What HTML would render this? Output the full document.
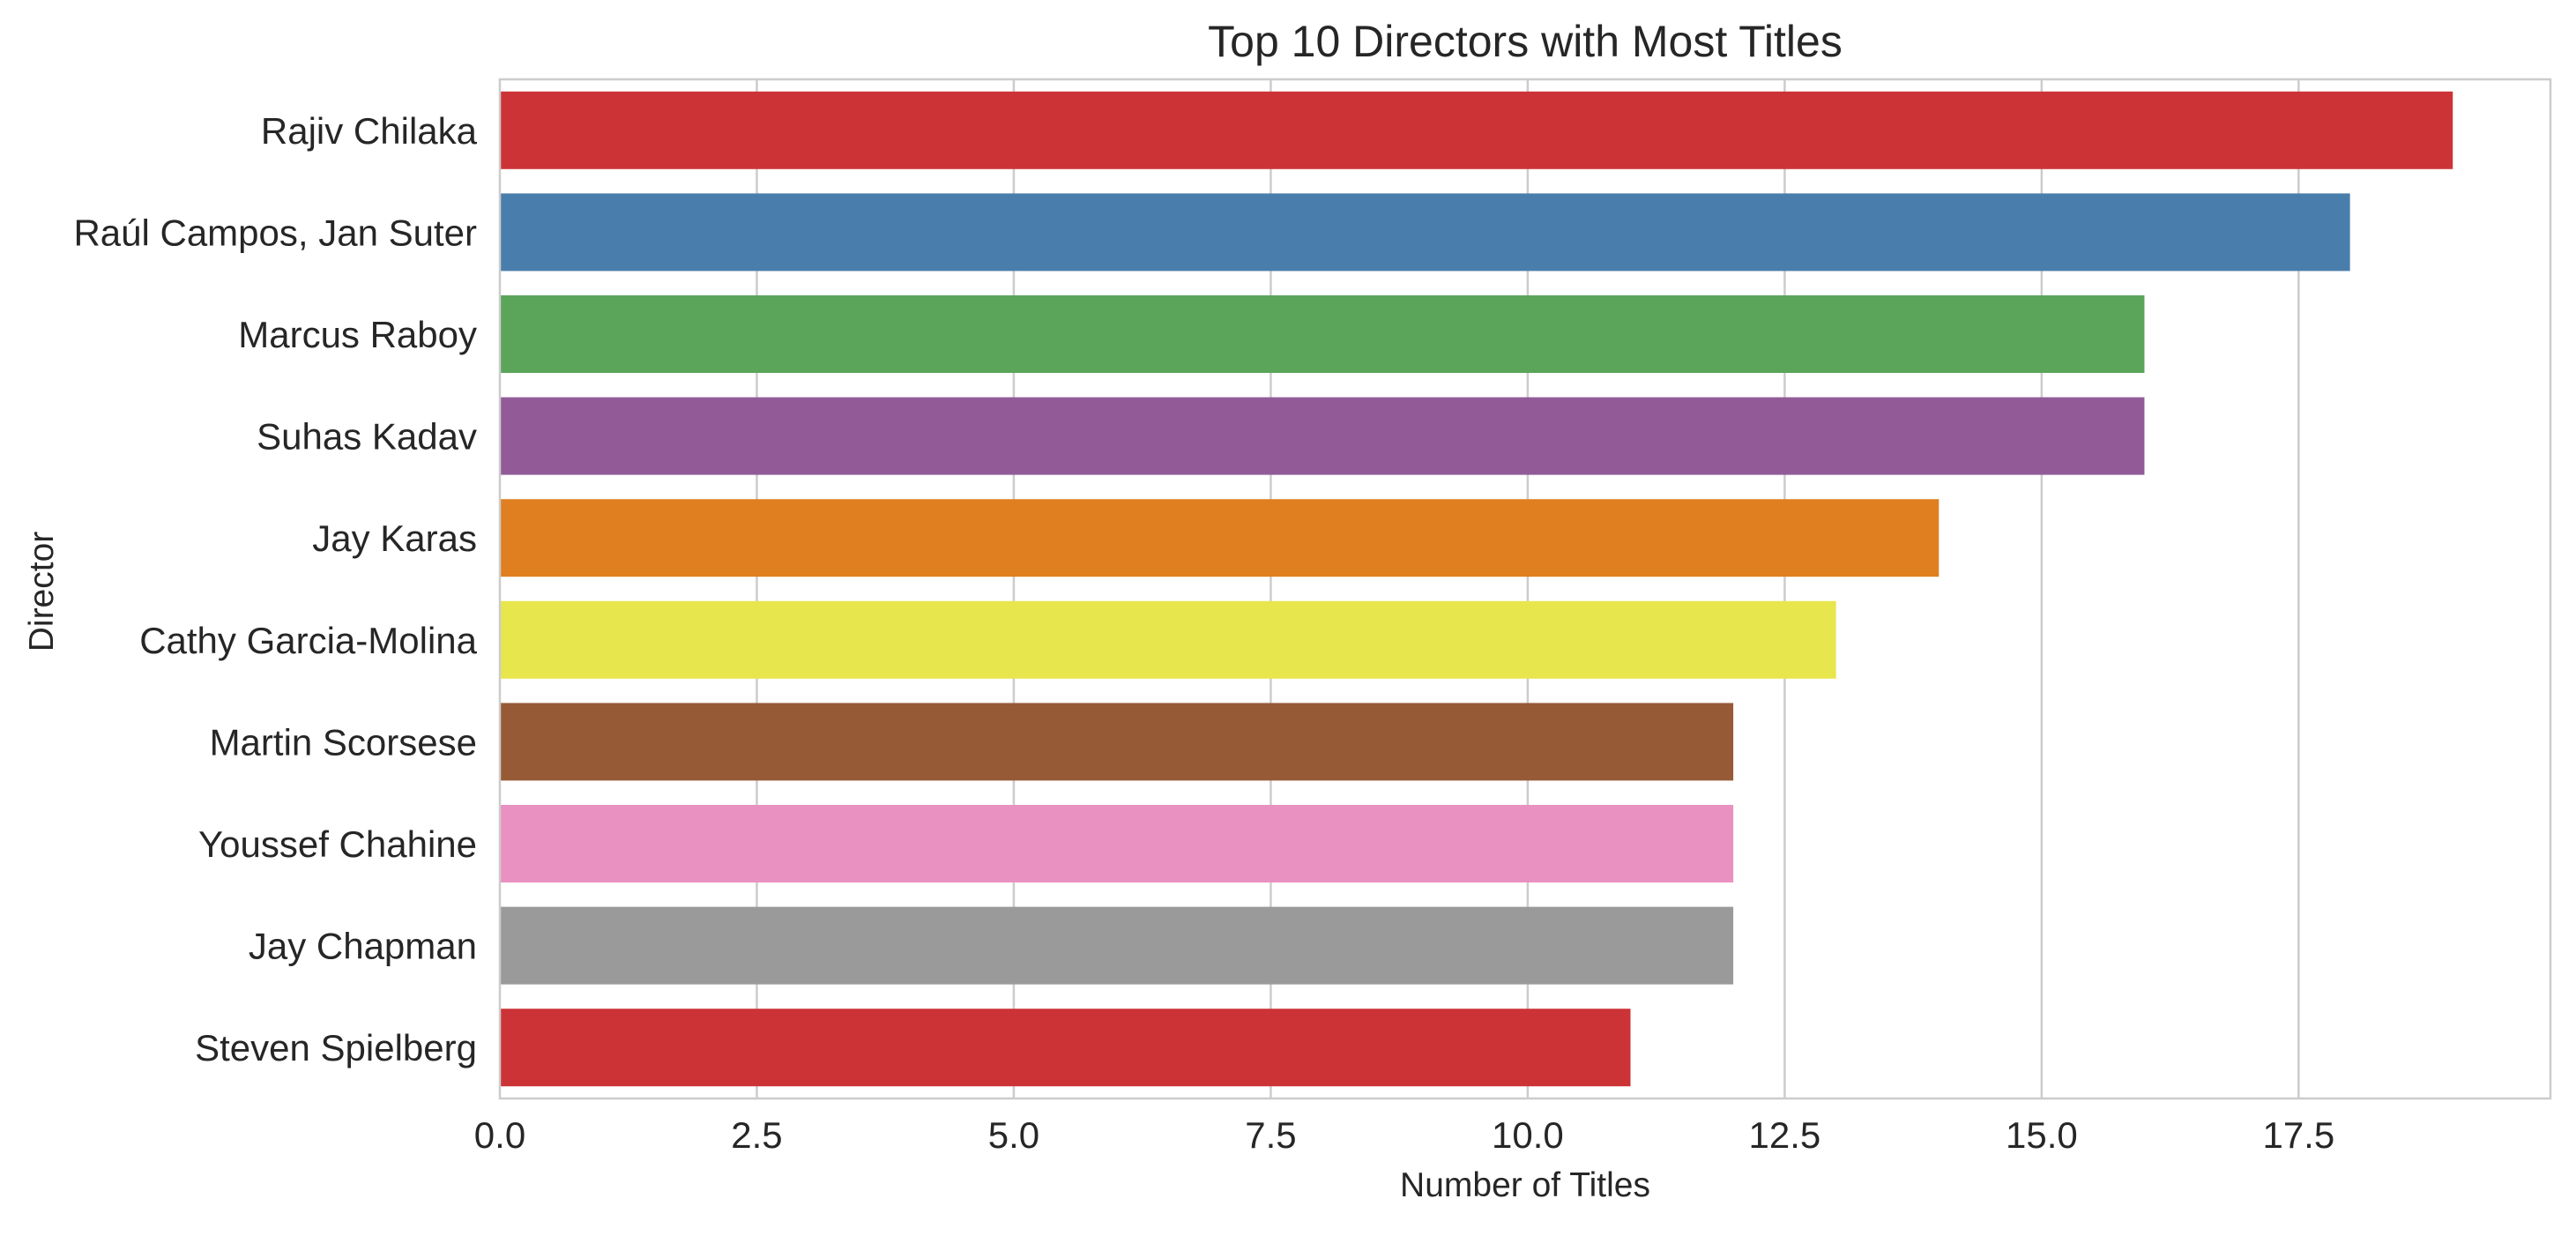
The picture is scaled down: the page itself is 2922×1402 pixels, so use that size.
<!DOCTYPE html>
<html><head><meta charset="utf-8"><style>
html,body{margin:0;padding:0;background:#fff;}
svg text{font-family:"Liberation Sans",Arial,sans-serif;fill:#262626;}
</style></head><body>
<svg id="chart" width="2922" height="1397" viewBox="0 0 2922 1397" xmlns="http://www.w3.org/2000/svg">
<text x="1730" y="64" font-size="50" text-anchor="middle">Top 10 Directors with Most Titles</text>
<g id="grid"></g><g id="bars"></g><g id="yticks"></g><g id="xticks"></g>
<rect x="567" y="90" width="2326" height="1156" fill="none" stroke="#cccccc" stroke-width="2.5"/>
<text x="1730" y="1357" font-size="39" text-anchor="middle">Number of Titles</text>
<text transform="translate(60,671) rotate(-90)" font-size="39" text-anchor="middle">Director</text>
</svg>
<script>
const categories=["Rajiv Chilaka","Raúl Campos, Jan Suter","Marcus Raboy","Suhas Kadav","Jay Karas","Cathy Garcia-Molina","Martin Scorsese","Youssef Chahine","Jay Chapman","Steven Spielberg"];
const values=[19,18,16,16,14,13,12,12,12,11];
const colors=["#cc3336","#497eac","#5aa55a","#925b98","#e07f20","#e8e64d","#975a37","#e991c1","#9a9a9a","#cc3336"];
const xTicks=[0,2.5,5,7.5,10,12.5,15,17.5];
const xTickLabels=["0.0","2.5","5.0","7.5","10.0","12.5","15.0","17.5"];
const L=567,R=2893,T=90,B=1246,XMAX=19.95;
const NS="http://www.w3.org/2000/svg";
function xs(v){return L+v/XMAX*(R-L);}
const band=(B-T)/categories.length;
function yc(i){return T+band*(i+0.5);}
function mk(tag,attrs,parent){const e=document.createElementNS(NS,tag);for(const k in attrs)e.setAttribute(k,attrs[k]);document.getElementById(parent).appendChild(e);return e;}
xTicks.forEach((t,i)=>{
  if(t>0){const g=mk("line",{x1:xs(t),x2:xs(t),y1:T,y2:B,stroke:"#cccccc","stroke-width":2.5},"grid");
  
  }
  const tx=mk("text",{x:xs(t),y:1302,"font-size":42,"text-anchor":"middle"},"xticks");
  tx.textContent=xTickLabels[i];
  
  
});
categories.forEach((c,i)=>{
  const h=88;
  const r=mk("rect",{x:L,y:yc(i)-h/2,width:xs(values[i])-L,height:h,fill:colors[i]},"bars");
  
  
  const t=mk("text",{x:541,y:yc(i)+15,"font-size":42,"text-anchor":"end"},"yticks");
  t.textContent=c;
  
  
});
</script>
</body></html>
